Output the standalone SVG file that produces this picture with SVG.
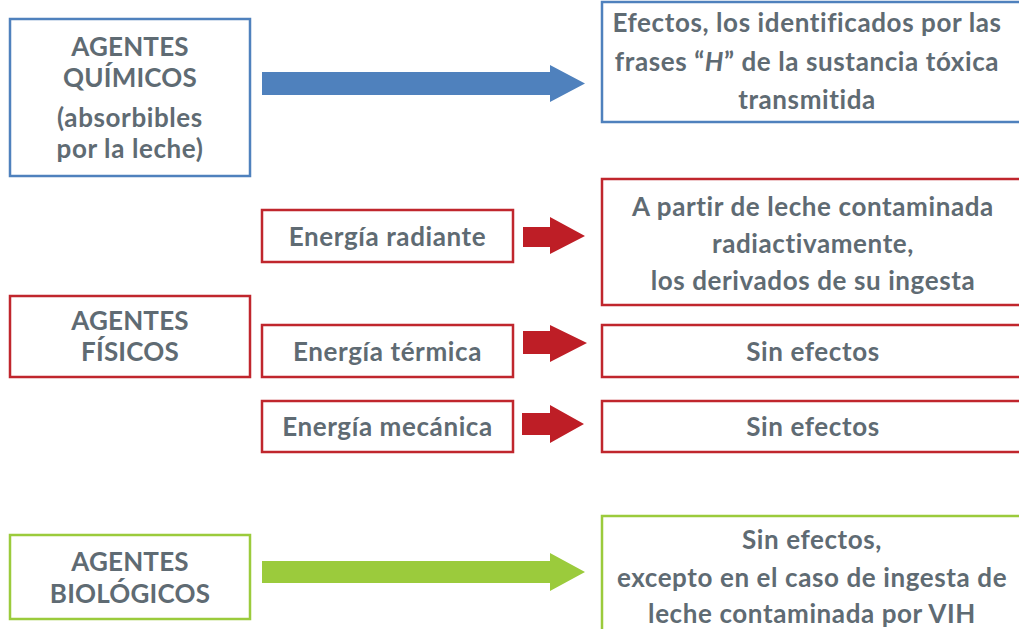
<svg xmlns="http://www.w3.org/2000/svg" width="1019" height="629" viewBox="0 0 1019 629">
<style>
.t{font-family:Lato,"Liberation Sans",sans-serif;font-weight:bold;font-size:26px;letter-spacing:0.6px;fill:#5F6B73;text-anchor:middle}
.c{letter-spacing:0.2px}
.bb{fill:#fff;stroke:#4F81BD;stroke-width:2.5}
.rb{fill:#fff;stroke:#C0262D;stroke-width:2.5}
.gb{fill:#fff;stroke:#9BCB3C;stroke-width:2.5}
</style>
<rect width="1019" height="629" fill="#fff"/>
<g id="quimicos">
<rect class="bb" x="10" y="19" width="240" height="157"/>
<text class="t c" x="130" y="56">AGENTES</text>
<text class="t c" x="130" y="87">QUÍMICOS</text>
<text class="t" x="130" y="127">(absorbibles</text>
<text class="t" x="130" y="158">por la leche)</text>
</g>
<g id="efectos-quimicos">
<rect class="bb" x="602" y="2" width="440" height="120"/>
<text class="t" x="807" y="32">Efectos, los identificados por las</text>
<text class="t" x="807" y="71">frases “<tspan font-style="italic">H</tspan>” de la sustancia tóxica</text>
<text class="t" x="807" y="109">transmitida</text>
</g>
<g id="fisicos">
<rect class="rb" x="10" y="296" width="240" height="81"/>
<text class="t c" x="130" y="330">AGENTES</text>
<text class="t c" x="130" y="361">FÍSICOS</text>
</g>
<g id="radiante">
<rect class="rb" x="262" y="210" width="251" height="52"/>
<text class="t" x="387.5" y="246">Energía radiante</text>
</g>
<g id="termica">
<rect class="rb" x="262" y="325" width="251" height="52"/>
<text class="t" x="387.5" y="361">Energía térmica</text>
</g>
<g id="mecanica">
<rect class="rb" x="262" y="401" width="251" height="51"/>
<text class="t" x="387.5" y="436">Energía mecánica</text>
</g>
<g id="efecto-radiante">
<rect class="rb" x="602" y="179" width="440" height="126"/>
<text class="t" x="813" y="216">A partir de leche contaminada</text>
<text class="t" x="813" y="253">radiactivamente,</text>
<text class="t" x="813" y="290">los derivados de su ingesta</text>
</g>
<g id="efecto-termica">
<rect class="rb" x="602" y="325" width="440" height="52"/>
<text class="t" x="813" y="361">Sin efectos</text>
</g>
<g id="efecto-mecanica">
<rect class="rb" x="602" y="401" width="440" height="51"/>
<text class="t" x="813" y="436">Sin efectos</text>
</g>
<g id="biologicos">
<rect class="gb" x="10" y="535" width="240" height="84"/>
<text class="t c" x="130" y="571">AGENTES</text>
<text class="t c" x="130" y="603">BIOLÓGICOS</text>
</g>
<g id="efecto-biologicos">
<rect class="gb" x="602" y="516" width="440" height="140"/>
<text class="t" x="812" y="549">Sin efectos,</text>
<text class="t" x="812" y="587">excepto en el caso de ingesta de</text>
<text class="t" x="812" y="623">leche contaminada por VIH</text>
</g>
<g id="connectors">
<polygon fill="#4F81BD" points="262,72 550,72 550,65 585,83.5 550,102 550,95 262,95"/>
<polygon fill="#BE1E26" points="523,227 550,227 550,217 585,236 550,254 550,247 523,247"/>
<polygon fill="#BE1E26" points="523,331 550,331 550,325 587,343 550,362 550,354 523,354"/>
<polygon fill="#BE1E26" points="522,413 550,413 550,405 584,424 550,443 550,435 522,435"/>
<polygon fill="#9BCB3C" points="262,561 550,561 550,553 585,572 550,591 550,583 262,583"/>
</g>
</svg>
